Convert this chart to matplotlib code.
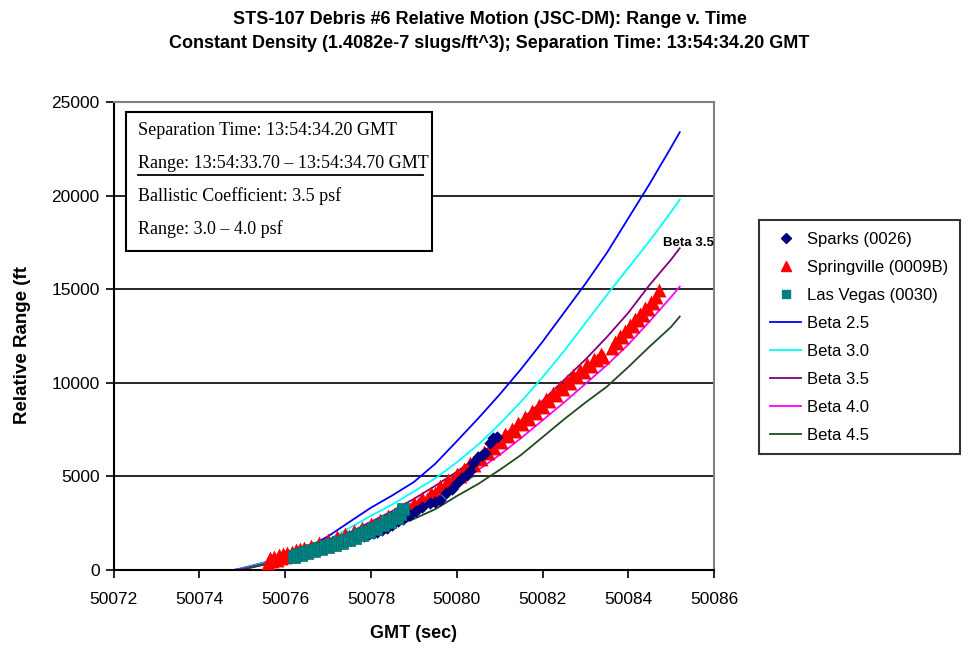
import matplotlib.pyplot as plt
from matplotlib.patches import Rectangle
from matplotlib.lines import Line2D

plt.rcParams['font.family'] = ['Liberation Sans', 'DejaVu Sans']

# Predicted relative range for each ballistic coefficient (psf)
beta_t = [50074.8, 50075.0, 50075.5, 50076.0, 50076.5, 50077.0, 50077.5, 50078.0,
          50078.5, 50079.0, 50079.5, 50080.0, 50080.5, 50081.0, 50081.5, 50082.0,
          50082.5, 50083.0, 50083.5, 50084.0, 50084.5, 50085.0, 50085.2]
beta_25 = [0, 100, 400, 730, 1180, 1800, 2570, 3330, 3990, 4700, 5680, 6880,
           8100, 9380, 10740, 12200, 13750, 15300, 16950, 18800, 20650, 22600, 23400]
beta_30 = [0, 80, 380, 700, 1100, 1620, 2250, 2900, 3500, 4200, 4900, 5750,
           6700, 7800, 9000, 10300, 11700, 13200, 14700, 16150, 17600, 19150, 19800]
beta_35 = [0, 60, 330, 640, 1000, 1460, 2000, 2580, 3150, 3800, 4500, 5250,
           6100, 7000, 8000, 9050, 10150, 11250, 12450, 13750, 15250, 16600, 17200]
beta_40 = [0, 40, 290, 580, 920, 1330, 1820, 2350, 2900, 3500, 4050, 4650,
           5350, 6150, 7050, 8000, 8950, 9950, 10950, 12050, 13300, 14600, 15150]
beta_45 = [0, 20, 280, 520, 800, 1120, 1470, 1880, 2300, 2730, 3250, 3950,
           4600, 5350, 6150, 7100, 8050, 8950, 9800, 10850, 11950, 13000, 13550]

# Observed relative range - Springville (0009B)
spr_t = [50075.60, 50075.65, 50075.70, 50075.75, 50075.80, 50075.85, 50075.90, 50075.95,
         50076.00, 50076.05, 50076.10, 50076.15, 50076.20, 50076.25, 50076.30, 50076.35,
         50076.40, 50076.45, 50076.50, 50076.60, 50076.70, 50076.80, 50076.90, 50077.00,
         50077.10, 50077.20, 50077.30, 50077.40, 50077.50, 50077.60, 50077.70, 50077.80,
         50077.90, 50078.00, 50078.10, 50078.20, 50078.30, 50078.40, 50078.50, 50078.60,
         50078.70, 50078.80, 50078.90, 50079.00, 50079.10, 50079.20, 50079.30, 50079.40,
         50079.50, 50079.60, 50079.70, 50079.80, 50079.90, 50080.00, 50080.08, 50080.16,
         50080.24, 50080.32, 50080.40, 50080.48, 50080.56, 50080.64, 50080.72, 50080.80,
         50080.88, 50080.96, 50081.04, 50081.12, 50081.20, 50081.28, 50081.36, 50081.44,
         50081.52, 50081.60, 50081.68, 50081.76, 50081.84, 50081.92, 50082.00, 50082.08,
         50082.16, 50082.24, 50082.32, 50082.40, 50082.48, 50082.56, 50082.64, 50082.72,
         50082.80, 50082.88, 50082.96, 50083.04, 50083.12, 50083.20, 50083.28, 50083.36,
         50083.40,
         50083.62, 50083.68, 50083.74, 50083.80, 50083.86, 50083.92, 50083.98, 50084.04,
         50084.10, 50084.16, 50084.22, 50084.28, 50084.34, 50084.40, 50084.46, 50084.52,
         50084.58, 50084.64, 50084.72]
spr_r = [350, 650, 480, 720, 560, 800, 620, 860,
         700, 900, 760, 980, 820, 1050, 900, 1110,
         960, 1180, 1040, 1300, 1200, 1420, 1350, 1580,
         1480, 1760, 1650, 1920, 1820, 2080, 2000, 2260,
         2180, 2450, 2380, 2660, 2580, 2880, 2800, 3080,
         3020, 3330, 3260, 3560, 3520, 3840, 3800, 4140,
         4130, 4480, 4460, 4820, 4780, 5150, 5050, 5420,
         5350, 5700, 5620, 6000, 5930, 6300, 6230, 6600,
         6520, 6930, 6850, 7250, 7150, 7560, 7450, 7880,
         7780, 8190, 8080, 8520, 8400, 8830, 8720, 9150,
         9040, 9470, 9350, 9790, 9680, 10100, 9990, 10420,
         10300, 10700, 10600, 11000, 10880, 11280, 11200, 11550,
         11400,
         11850, 12200, 12150, 12500, 12450, 12800, 12750, 13100,
         13050, 13400, 13350, 13700, 13650, 14000, 13950, 14300,
         14250, 14600, 14950]

# Sparks (0026)
spk_t = [50077.85, 50077.95, 50078.05, 50078.15, 50078.25, 50078.37, 50078.50, 50078.62,
         50078.75, 50078.91, 50079.05, 50079.20, 50079.38, 50079.50, 50079.61, 50079.75,
         50079.88, 50080.00, 50080.12, 50080.23, 50080.31, 50080.39, 50080.50, 50080.58,
         50080.66, 50080.78, 50080.85, 50080.93]
spk_r = [1800, 1900, 2000, 2050, 2150, 2230, 2400, 2600,
         2750, 2940, 3150, 3350, 3560, 3650, 3740, 4100,
         4350, 4630, 4900, 5080, 5300, 5700, 6060, 6150,
         6240, 6800, 7040, 7100]

# Las Vegas (0030)
lv_t = [50076.20, 50076.28, 50076.36, 50076.44, 50076.52, 50076.60, 50076.68, 50076.76,
        50076.84, 50076.92, 50077.00, 50077.08, 50077.16, 50077.24, 50077.32, 50077.40,
        50077.48, 50077.56, 50077.64, 50077.72, 50077.80, 50077.88, 50077.96, 50078.04,
        50078.12, 50078.20, 50078.28, 50078.36, 50078.44, 50078.52, 50078.60, 50078.68,
        50078.75]
lv_r = [700, 880, 800, 960, 900, 1060, 1000, 1160,
        1100, 1270, 1210, 1380, 1330, 1500, 1450, 1630,
        1580, 1770, 1720, 1910, 1870, 2070, 2030, 2230,
        2200, 2410, 2380, 2600, 2580, 2800, 2790, 3020,
        3250]

fig = plt.figure(figsize=(9.79, 6.49), dpi=100)
ax = fig.add_axes([0.116, 0.1217, 0.6134, 0.7207])

lw = 1.3
l25, = ax.plot(beta_t, beta_25, color='#0000FF', lw=lw, label='Beta 2.5', zorder=2)
l30, = ax.plot(beta_t, beta_30, color='#00FFFF', lw=lw, label='Beta 3.0', zorder=2)
l35, = ax.plot(beta_t, beta_35, color='#800080', lw=lw, label='Beta 3.5', zorder=2)
l40, = ax.plot(beta_t, beta_40, color='#FF00FF', lw=lw, label='Beta 4.0', zorder=2)
l45, = ax.plot(beta_t, beta_45, color='#1E4D1E', lw=lw, label='Beta 4.5', zorder=2)

ax.scatter(spr_t, spr_r, marker='^', s=100, color='#FF0000', linewidths=0, zorder=3)
ax.scatter(spk_t, spk_r, marker='D', s=40, color='#000080', linewidths=0, zorder=4)
ax.scatter(lv_t, lv_r, marker='s', s=75, color='#008080', edgecolors='#0A6E6E',
           linewidths=0.5, zorder=5)

ax.set_xlim(50072, 50086)
ax.set_ylim(0, 25000)
ax.set_xticks(range(50072, 50087, 2))
ax.set_yticks(range(0, 25001, 5000))
ax.tick_params(axis='x', direction='out', length=6, width=1.2, labelsize=12.5, pad=10)
ax.tick_params(axis='y', direction='out', length=6, width=1.2, labelsize=12.5, pad=4)
ax.yaxis.grid(True, color='black', lw=1.2)
ax.set_axisbelow(True)
for s in ['left', 'bottom']:
    ax.spines[s].set_linewidth(1.5)
for s in ['top', 'right']:
    ax.spines[s].set_color('#808080')
    ax.spines[s].set_linewidth(1.5)

ax.set_xlabel('GMT (sec)', fontsize=13, fontweight='bold', labelpad=13)
ax.set_ylabel('Relative Range (ft', fontsize=13.5, fontweight='bold')
ax.yaxis.set_label_coords(-0.138, 0.482)

fig.suptitle('STS-107 Debris #6 Relative Motion (JSC-DM): Range v. Time\n'
             'Constant Density (1.4082e-7 slugs/ft^3); Separation Time: 13:54:34.20 GMT',
             fontsize=13, fontweight='bold', y=0.983, linespacing=1.55)

ax.annotate('Beta 3.5', xy=(beta_t[-1], beta_35[-1]), xytext=(50085.4, 17500),
            ha='center', va='center', fontsize=9.5, fontweight='bold', annotation_clip=False)

# information box
ax.add_patch(Rectangle((0.02, 0.683), 0.51, 0.297, transform=ax.transAxes,
                       facecolor='white', edgecolor='black', lw=1.5, zorder=6))
serif = ['Liberation Serif', 'DejaVu Serif']
box_lines = ['Separation Time: 13:54:34.20 GMT',
             'Range: 13:54:33.70 \u2013 13:54:34.70 GMT',
             'Ballistic Coefficient: 3.5 psf',
             'Range: 3.0 \u2013 4.0 psf']
for i, txt in enumerate(box_lines):
    ax.text(0.04, 0.94 - i * 0.07, txt, transform=ax.transAxes, family=serif,
            fontsize=13, va='center', ha='left', zorder=7)
ax.add_line(Line2D([0.04, 0.515], [0.845, 0.845], transform=ax.transAxes,
                   color='black', lw=1.3, zorder=7))

handles = [
    Line2D([], [], marker='D', color='#000080', ls='none', markersize=5),
    Line2D([], [], marker='^', color='#FF0000', ls='none', markersize=7),
    Line2D([], [], marker='s', color='#008080', ls='none', markersize=6),
    l25, l30, l35, l40, l45]
labels = ['Sparks (0026)', 'Springville (0009B)', 'Las Vegas (0030)',
          'Beta 2.5', 'Beta 3.0', 'Beta 3.5', 'Beta 4.0', 'Beta 4.5']
leg = fig.legend(handles, labels, loc='upper left', bbox_to_anchor=(0.775, 0.661),
                 fontsize=12, frameon=True, fancybox=False, edgecolor='black',
                 handlelength=1.85, handletextpad=0.35, labelspacing=0.78,
                 borderpad=0.7, borderaxespad=0)
leg.get_frame().set_linewidth(1.5)

plt.savefig('out.png', dpi=100)
